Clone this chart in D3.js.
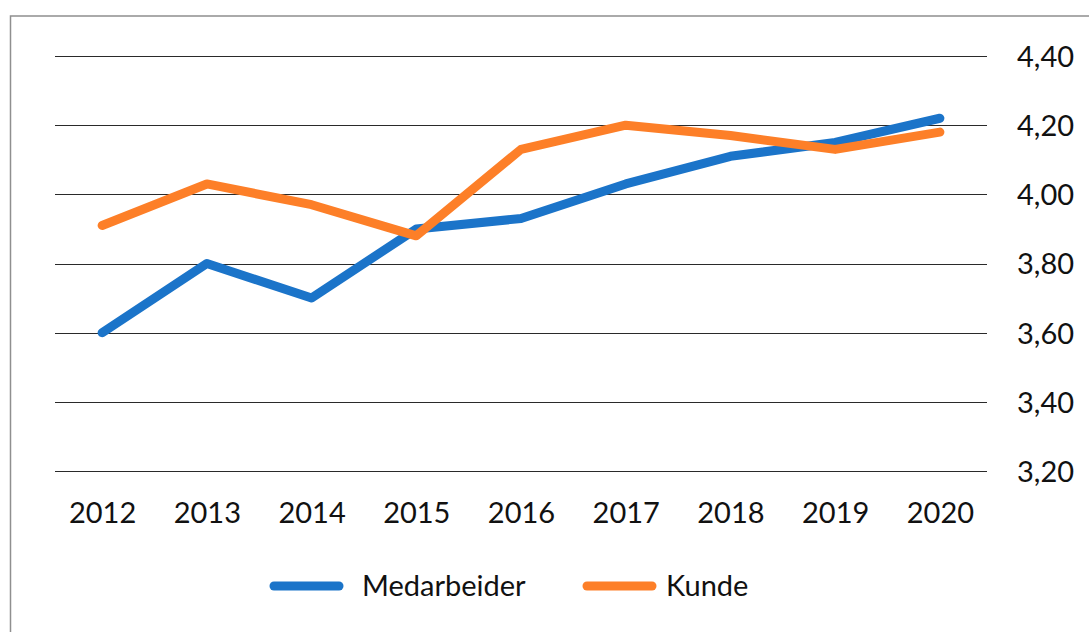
<!DOCTYPE html>
<html>
<head>
<meta charset="utf-8">
<script src="https://cdn.jsdelivr.net/npm/d3@7"></script>
<style>
  body { margin: 0; background: #fff; }
  text { font-family: Lato, "Noto Sans", sans-serif; fill: #111; }
</style>
</head>
<body>
<div class="chart"></div>
<script>
// data
const years = ["2012", "2013", "2014", "2015", "2016", "2017", "2018", "2019", "2020"];
const medarbeider = [3.60, 3.80, 3.70, 3.90, 3.93, 4.03, 4.11, 4.15, 4.22];
const kunde = [3.91, 4.03, 3.97, 3.88, 4.13, 4.20, 4.17, 4.13, 4.18];
const yTicks = [3.2, 3.4, 3.6, 3.8, 4.0, 4.2, 4.4];
const seriesNames = ["Medarbeider", "Kunde"];
const colors = ["#1b74c9", "#fd7f28"];

const width = 1089, height = 632;

const svg = d3.select(".chart")
  .append("svg")
    .attr("width", width)
    .attr("height", height);

// outer frame (only top and left edges are visible)
svg.append("path")
  .attr("d", "M10.5,700 L10.5,16 L1200,16")
  .attr("fill", "none")
  .attr("stroke", "#8f8f8f")
  .attr("stroke-width", 1.5);

// scales
const x = d3.scalePoint()
  .domain(years)
  .range([55, 987])
  .padding(0.45);

const y = d3.scaleLinear()
  .domain([3.2, 4.4])
  .range([471, 56]);

// grid lines
svg.append("g")
  .selectAll("line")
  .data(yTicks)
  .join("line")
    .attr("x1", 55)
    .attr("x2", 987)
    .attr("y1", d => Math.round(y(d)) + 0.5)
    .attr("y2", d => Math.round(y(d)) + 0.5)
    .attr("stroke", "#2a2a2a")
    .attr("stroke-width", 1.1);

// right axis labels
const fmt = d => d3.format(".2f")(d).replace(".", ",");
svg.append("g")
  .attr("transform", "translate(1017,0)")
  .call(d3.axisRight(y).tickValues(yTicks).tickFormat(fmt).tickSize(0).tickPadding(0))
  .call(g => g.select(".domain").remove())
  .selectAll("text")
    .attr("font-size", 29)
    .attr("dy", "0.36em")
    .style("font-family", "Lato, sans-serif")
    .attr("fill", "#111");

// bottom axis labels
svg.append("g")
  .attr("transform", "translate(0,471)")
  .call(d3.axisBottom(x).tickSize(0).tickPadding(0))
  .call(g => g.select(".domain").remove())
  .selectAll("text")
    .attr("font-size", 29)
    .attr("dy", "1.8em")
    .style("font-family", "Lato, sans-serif")
    .attr("fill", "#111");

// lines
const line = d3.line()
  .x((d, i) => x(years[i]))
  .y(d => y(d));

[medarbeider, kunde].forEach((values, k) => {
  svg.append("path")
    .datum(values)
    .attr("fill", "none")
    .attr("stroke", colors[k])
    .attr("stroke-width", 9)
    .attr("stroke-linecap", "round")
    .attr("stroke-linejoin", "round")
    .attr("d", line);
});

// legend
const legend = svg.append("g").attr("transform", "translate(0,586)");
const legendX = [270, 583];
seriesNames.forEach((name, k) => {
  legend.append("line")
    .attr("x1", legendX[k] + 4)
    .attr("x2", legendX[k] + 69)
    .attr("y1", 0)
    .attr("y2", 0)
    .attr("stroke", colors[k])
    .attr("stroke-width", 9)
    .attr("stroke-linecap", "round");
  legend.append("text")
    .attr("x", legendX[k] + (k === 0 ? 92 : 83))
    .attr("y", 0)
    .attr("dy", "0.36em")
    .attr("font-size", 29)
    .text(name);
});
</script>
</body>
</html>
